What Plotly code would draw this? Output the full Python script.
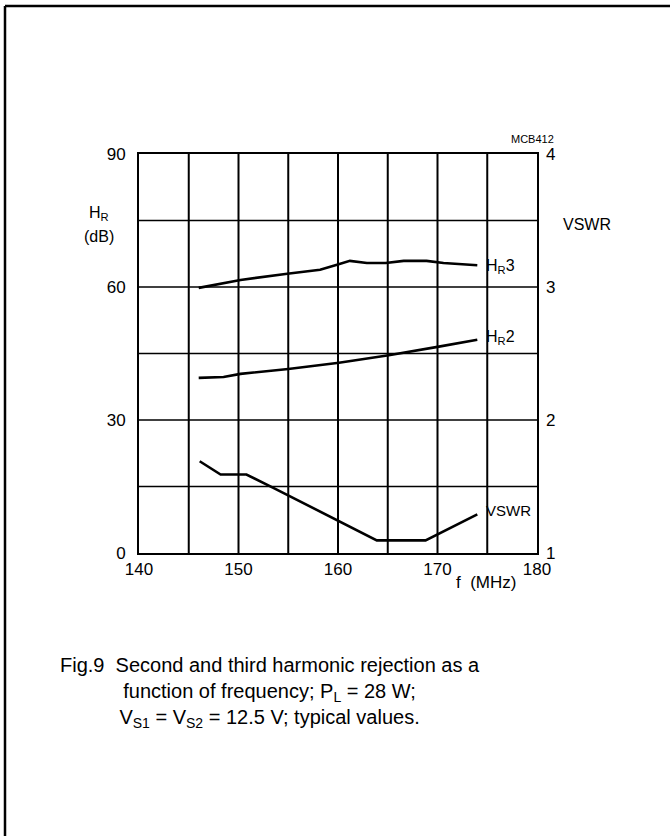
import plotly.graph_objects as go

# ---- data ----
hr3_f = [146.0, 150.2, 154.9, 158.2, 159.9, 161.2, 162.9, 164.8, 166.6, 168.9, 170.6, 174.0]
hr3_db = [59.8, 61.6, 63.0, 63.9, 65.0, 65.9, 65.4, 65.4, 65.9, 65.9, 65.4, 64.9]

hr2_f = [146.0, 148.5, 150.2, 155.0, 160.1, 165.1, 170.0, 174.0]
hr2_db = [39.5, 39.7, 40.4, 41.5, 42.9, 44.6, 46.5, 48.1]

vswr_f = [146.1, 148.2, 150.8, 153.5, 163.9, 168.8, 174.0]
vswr_v = [1.69, 1.59, 1.59, 1.49, 1.095, 1.095, 1.29]

x_ticks = [140, 150, 160, 170, 180]
y_ticks = [0, 30, 60, 90]
y2_ticks = [1, 2, 3, 4]

W, H = 670, 836
L, R, T, B = 139, 537, 154, 553
PW, PH = R - L, B - T

def px(x):
    return (x - L) / PW

def py(y):
    return (B - y) / PH

FAM = "Liberation Sans, Arial, sans-serif"
tickfont = dict(family=FAM, size=17, color="black")
line = dict(color="black", width=2.6)

fig = go.Figure()
fig.add_trace(go.Scatter(x=hr3_f, y=hr3_db, mode="lines", line=line, showlegend=False))
fig.add_trace(go.Scatter(x=hr2_f, y=hr2_db, mode="lines", line=line, showlegend=False))
fig.add_trace(go.Scatter(x=vswr_f, y=vswr_v, mode="lines", line=line, yaxis="y2", showlegend=False))

fig.update_layout(
    width=W, height=H,
    margin=dict(l=L, r=W - R, t=T, b=H - B, pad=0),
    paper_bgcolor="white", plot_bgcolor="white",
    xaxis=dict(range=[140, 180], tickvals=x_ticks, ticktext=[str(v) for v in x_ticks],
               showgrid=False, showline=True, linecolor="black", linewidth=2, mirror=True,
               ticks="", tickfont=tickfont, zeroline=False, ticklabelstandoff=0),
    yaxis=dict(range=[0, 90], tickvals=y_ticks, ticktext=[str(v) for v in y_ticks],
               showgrid=False, showline=True, linecolor="black", linewidth=2, mirror=True,
               ticks="", tickfont=tickfont, zeroline=False, ticklabelstandoff=8),
    yaxis2=dict(range=[1, 4], tickvals=y2_ticks, overlaying="y", side="right",
                showgrid=False, showline=False, ticks="", tickfont=tickfont,
                zeroline=False, ticklabelstandoff=8),
)

# vertical grid every 5 MHz and horizontal grid every 15 dB
for f in range(145, 180, 5):
    fig.add_shape(type="line", xref="x", yref="paper", x0=f, x1=f, y0=0, y1=1,
                  line=dict(color="black", width=2), layer="below")
for d in range(15, 90, 15):
    fig.add_shape(type="line", xref="paper", yref="y", x0=0, x1=1, y0=d, y1=d,
                  line=dict(color="black", width=1.6), layer="below")

# page frame (top and left edges)
fig.add_shape(type="line", xref="paper", yref="paper", x0=px(5), x1=px(670), y0=py(6), y1=py(6),
              line=dict(color="black", width=2.5))
fig.add_shape(type="line", xref="paper", yref="paper", x0=px(5), x1=px(5), y0=py(6), y1=py(836),
              line=dict(color="black", width=2.5))

def ann(text, x, y, size=15, xanchor="left"):
    fig.add_annotation(text=text, x=px(x), y=py(y), xref="paper", yref="paper",
                       showarrow=False, xanchor=xanchor, yanchor="middle",
                       font=dict(family=FAM, size=size, color="black"))

ann("H<sub>R</sub>", 99, 213, size=16, xanchor="center")
ann("(dB)", 99, 236, size=16, xanchor="center")
ann("VSWR", 561, 224, size=16)
ann("MCB412", 532, 139, size=11, xanchor="center")
ann("H<sub>R</sub>3", 484, 266, size=16)
ann("H<sub>R</sub>2", 484, 337, size=16)
ann("VSWR", 484, 510, size=15)
ann("f  (MHz)", 486, 582, size=17, xanchor="center")

caption = ("Fig.9  Second and third harmonic rejection as a<br>"
           "function of frequency; P<sub>L</sub> = 28 W;<br>"
           "V<sub>S1</sub> = V<sub>S2</sub> = 12.5 V; typical values.")
fig.add_annotation(text=caption, x=px(270), y=py(692), xref="paper", yref="paper",
                   showarrow=False, xanchor="center", yanchor="middle", align="center",
                   font=dict(family=FAM, size=20, color="black"))

fig.write_html("out.html", config={"displayModeBar": False},
               post_script="document.body.style.margin='0';document.body.style.overflow='hidden';")
